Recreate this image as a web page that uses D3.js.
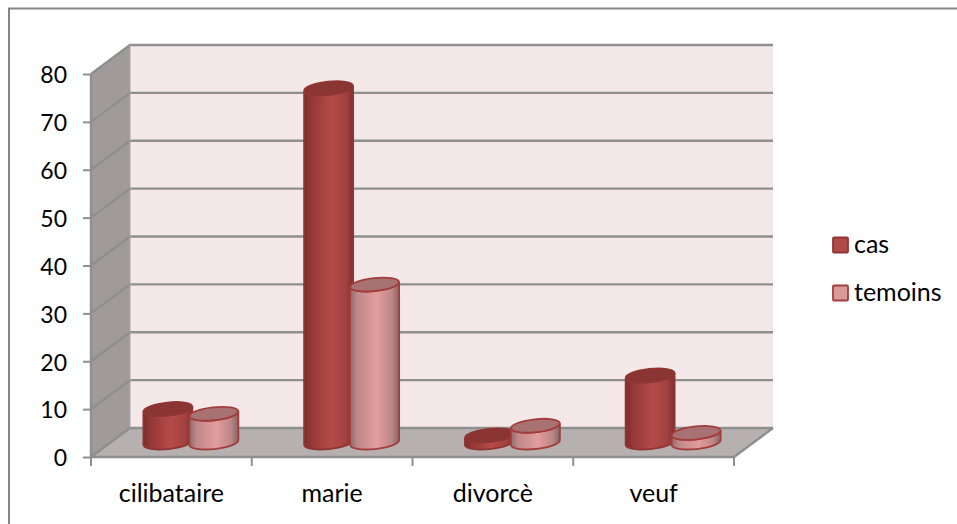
<!DOCTYPE html>
<html>
<head>
<meta charset="utf-8">
<script src="https://cdn.jsdelivr.net/npm/d3@7"></script>
<style>
  html, body { margin: 0; padding: 0; background: #fff; }
  svg { display: block; }
  text { font-family: Lato, "Open Sans", sans-serif; fill: #000; }
</style>
</head>
<body>
<svg width="957" height="524"></svg>
<script>
// Data
const categories = ["cilibataire", "marie", "divorcè", "veuf"];
const seriesNames = ["cas", "temoins"];
const casValues = [7, 74, 1.5, 14];
const temoinsValues = [6, 33, 3.5, 2];
const yTicks = [0, 10, 20, 30, 40, 50, 60, 70, 80];

const svg = d3.select("svg");
const GRID = "#8f8f8f";

// Chart box and 3D depth offset
const box = { left: 91, right: 734, top: 74, bottom: 457, dx: 39, dy: -29 };

const scaleY = d3.scaleLinear().domain([0, 80]).range([box.bottom, box.top]);
const scaleX = d3.scaleBand().domain(categories).range([box.left, box.right]);
// Two bars side by side, centred in the category band
const barStep = 46;
const scaleSeries = d3.scaleBand().domain(seriesNames)
    .range([scaleX.bandwidth() / 2 - barStep, scaleX.bandwidth() / 2 + barStep]);

const poly = pts => "M" + pts.map(p => p.join(",")).join("L") + "Z";

// Gradients for cylinders
function addGradient(id, stops) {
    const g = svg.append("defs").append("linearGradient").attr("id", id);
    stops.forEach(s => g.append("stop").attr("offset", s[0]).attr("stop-color", s[1]));
}
addGradient("gradCas", [[0, "#7c2c2c"], [0.12, "#913636"], [0.55, "#b54b48"], [0.85, "#a24140"], [1, "#7f2f2f"]]);
addGradient("gradTem", [[0, "#8f6c6c"], [0.15, "#c08888"], [0.55, "#e39d9d"], [0.85, "#bd8686"], [1, "#866464"]]);

function drawFrame() {
    svg.append("path")
        .attr("d", "M9,524L9,8.5L957,8.5")
        .attr("fill", "none").attr("stroke", "#868686").attr("stroke-width", 2);
}

function drawWalls() {
    const { left, right, top, bottom, dx, dy } = box;
    svg.append("path")
        .attr("d", poly([[left + dx, top + dy], [right + dx, top + dy], [right + dx, bottom + dy], [left + dx, bottom + dy]]))
        .attr("fill", "#f4e8e8");
    svg.append("path")
        .attr("d", poly([[left, top], [left + dx, top + dy], [left + dx, bottom + dy], [left, bottom]]))
        .attr("fill", "#a09a9a");
    svg.append("path")
        .attr("d", poly([[left, bottom], [left + dx, bottom + dy], [right + dx, bottom + dy], [right, bottom]]))
        .attr("fill", "#b7b0b0");

    // Grid lines on side and back walls
    yTicks.forEach(t => {
        const y = scaleY(t);
        svg.append("path")
            .attr("d", `M${left},${y}L${left + dx},${y + dy}L${right + dx},${y + dy}`)
            .attr("fill", "none").attr("stroke", GRID).attr("stroke-width", 2.4);
    });
    svg.append("path")
        .attr("d", `M${left + dx},${top + dy}L${left + dx},${bottom + dy}`)
        .attr("stroke", "#a8a4a4").attr("stroke-width", 1);
    svg.append("path")
        .attr("d", `M${right},${bottom}L${right + dx},${bottom + dy}`)
        .attr("stroke", GRID).attr("stroke-width", 2.4);
}

function drawAxes() {
    const axisY = d3.axisLeft(scaleY).tickValues(yTicks).tickSize(8).tickPadding(16);
    const gy = svg.append("g").attr("transform", `translate(${box.left},0)`).call(axisY);
    gy.selectAll("text").style("font-size", "23px").attr("dy", "0.38em");
    gy.selectAll("line").attr("stroke", GRID).attr("stroke-width", 2);
    gy.select(".domain").attr("stroke", GRID).attr("stroke-width", 2.4).attr("d", `M0,${box.top}L0,${box.bottom}`);

    const axisX = d3.axisBottom(scaleX).tickSize(0).tickPadding(27);
    const gx = svg.append("g").attr("transform", `translate(0,${box.bottom})`).call(axisX);
    gx.selectAll("text").style("font-size", "25px");
    gx.select(".domain").attr("stroke", GRID).attr("stroke-width", 2.4).attr("d", `M${box.left},0L${box.right},0`);

    // Separators between the categories
    const edges = categories.map(c => scaleX(c)).concat(box.right);
    gx.selectAll(".sep").data(edges).enter().append("line")
        .attr("class", "sep")
        .attr("x1", d => d).attr("x2", d => d)
        .attr("y1", 0).attr("y2", 9)
        .attr("stroke", GRID).attr("stroke-width", 2);
}

function drawCylinder(cx, yTop, yBase, fill, topFill, edge) {
    const rx = 24.5, ry = 6.5, skew = 2.5, rot = -6;
    const l = cx - rx, r = cx + rx;
    const g = svg.append("g");
    g.append("path")
        .attr("d", `M${l},${yTop + skew}L${l},${yBase + skew}A${rx},${ry} ${rot} 0 0 ${r},${yBase - skew}L${r},${yTop - skew}A${rx},${ry} ${rot} 0 1 ${l},${yTop + skew}Z`)
        .attr("fill", fill).attr("stroke", edge).attr("stroke-width", 1.8);
    g.append("ellipse")
        .attr("rx", rx).attr("ry", ry)
        .attr("transform", `translate(${cx},${yTop}) rotate(${rot})`)
        .attr("fill", topFill).attr("stroke", edge).attr("stroke-width", 1.8);
}

function drawBars() {
    const dx = box.dx / 2, dy = box.dy / 2;
    const yBase = scaleY(0) + dy;
    const styles = {
        cas: { values: casValues, fill: "url(#gradCas)", top: "#8a3433", edge: "#8f3634" },
        temoins: { values: temoinsValues, fill: "url(#gradTem)", top: "#a87172", edge: "#a33d3c" }
    };
    categories.forEach((c, i) => {
        seriesNames.forEach(s => {
            const st = styles[s];
            const cx = scaleX(c) + scaleSeries(s) + scaleSeries.bandwidth() / 2 + dx;
            drawCylinder(cx, scaleY(st.values[i]) + dy, yBase, st.fill, st.top, st.edge);
        });
    });
}

function drawLegend() {
    const swatches = [{ y: 245, fill: "#b04a48", edge: "#8f3634" }, { y: 293, fill: "#d99a9a", edge: "#a33d3c" }];
    seriesNames.forEach((s, i) => {
        svg.append("rect")
            .attr("x", 833).attr("y", swatches[i].y - 7.5)
            .attr("width", 15).attr("height", 15).attr("rx", 1)
            .attr("fill", swatches[i].fill)
            .attr("stroke", swatches[i].edge).attr("stroke-width", 1.8);
        svg.append("text")
            .attr("x", 854).attr("y", swatches[i].y + 8)
            .style("font-size", "25px").text(s);
    });
}

drawFrame();
drawWalls();
drawAxes();
drawBars();
drawLegend();
</script>
</body>
</html>
